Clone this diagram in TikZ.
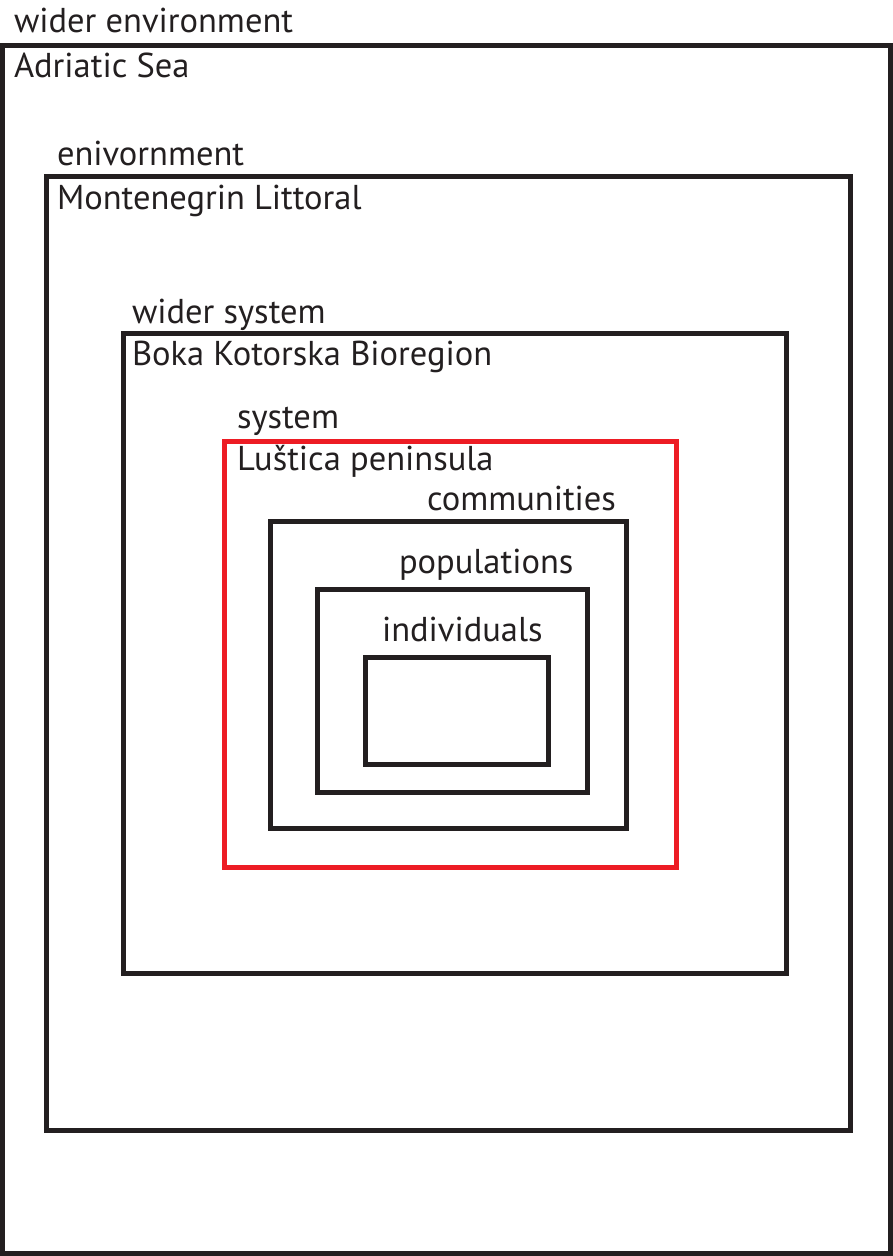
\documentclass[tikz,border=0pt]{standalone}
\usepackage{fontspec}
\setmainfont{PT Sans}
\definecolor{inkblack}{HTML}{231F20}
\definecolor{inkred}{HTML}{ED1C24}
\begin{document}
\begin{tikzpicture}[x=1pt,y=-1pt,
  frame/.style={draw=inkblack,line width=5pt},
  redframe/.style={draw=inkred,line width=5pt},
  lbl/.style={anchor=base west,inner sep=0pt,outer sep=0pt,text=inkblack,font=\fontsize{34.5}{40}\selectfont}]
\useasboundingbox[fill=white] (0,0) rectangle (893,1256);
\draw[frame] (2.5,45.5) rectangle (890.5,1253.5);
\draw[frame] (46.5,176.5) rectangle (850,1130.5);
\draw[frame] (123,333) rectangle (786,973.5);
\draw[redframe] (224.5,441.5) rectangle (676,867.5);
\draw[frame] (270.5,521.5) rectangle (626,828.5);
\draw[frame] (317,589) rectangle (587.5,792.5);
\draw[frame] (365.5,657) rectangle (548.5,764.5);
\node[lbl] (t1) at (14,32) {wider environment};
\node[lbl] (t2) at (14,77) {Adriatic Sea};
\node[lbl] (t3) at (57,165) {enivornment};
\node[lbl] (t4) at (57,209) {Montenegrin Littoral};
\node[lbl] (t5) at (132,323) {wider system};
\node[lbl] (t6) at (132,365) {Boka Kotorska Bioregion};
\node[lbl] (t7) at (237,428) {system};
\node[lbl] (t8) at (237,470) {Luštica peninsula};
\node[lbl] (t9) at (427,510) {communities};
\node[lbl] (t10) at (399,573) {populations};
\node[lbl] (t11) at (382,641) {individuals};
\end{tikzpicture}
\end{document}
